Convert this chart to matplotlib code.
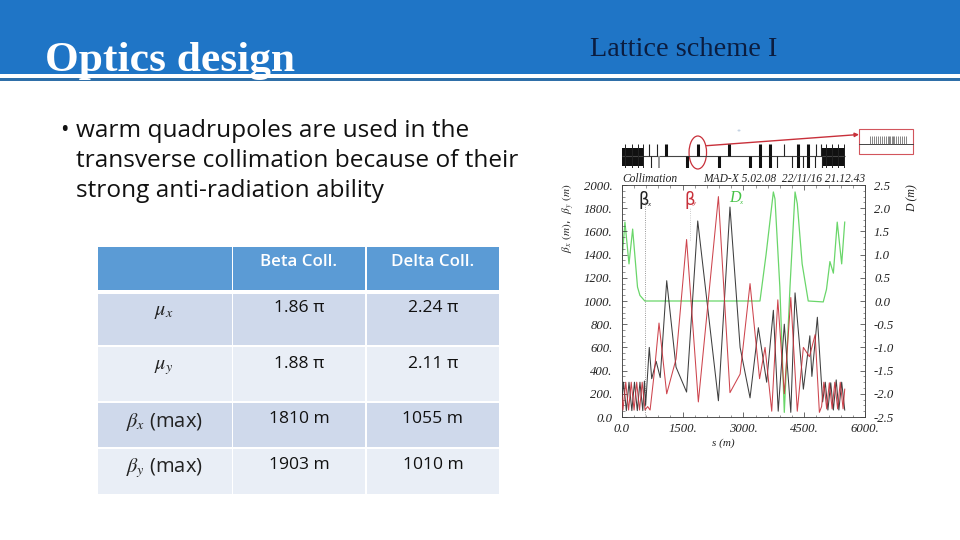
import matplotlib
matplotlib.use("Agg")
import matplotlib.pyplot as plt
from matplotlib.patches import Rectangle, Ellipse
from matplotlib.ticker import MultipleLocator

# ---- data ----
title_left = "Optics design"
title_right = "Lattice scheme I"
bullet_lines = ["warm quadrupoles are used in the",
                "transverse collimation because of their",
                "strong anti-radiation ability"]
table_cols = ["", "Beta Coll.", "Delta Coll."]
row_labels = [r"$\mu_x$", r"$\mu_y$", r"$\beta_x$ (max)", r"$\beta_y$ (max)"]
beta_coll = ["1.86 π", "1.88 π", "1810 m", "1903 m"]
delta_coll = ["2.24 π", "2.11 π", "1055 m", "1010 m"]

bx_s = [0, 45, 115, 180, 250, 315, 385, 450, 520, 560, 590, 680, 740, 850, 950, 1110,
        1340, 1600, 1875, 2385, 2670, 2920, 3165, 3370, 3575, 3740, 3860, 4010, 4170, 4275, 4480, 4640, 4690, 4825,
        4955, 5020, 5085, 5155, 5220, 5290, 5355, 5425, 5500]
bx = [100, 300, 55, 300, 55, 300, 55, 300, 55, 310, 100, 600, 330, 480, 340, 1175,
      430, 215, 1690, 140, 1810, 600, 165, 770, 300, 920, 50, 800, 40, 1070, 240, 700, 350, 860,
      130, 300, 60, 295, 60, 320, 60, 300, 60]
by_s = [0, 30, 100, 170, 235, 305, 370, 440, 505, 575, 640, 700, 800, 920, 1110,
        1340, 1600, 1890, 2385, 2670, 2920, 3165, 3400, 3535, 3700, 3850, 4010, 4170, 4330, 4480, 4630, 4770, 4875,
        4930, 4985, 5055, 5120, 5190, 5255, 5325, 5390, 5460, 5500]
by = [200, 60, 300, 60, 300, 60, 300, 60, 300, 60, 90, 60, 370, 810, 200,
      500, 1530, 130, 1900, 210, 370, 1150, 330, 600, 50, 1010, 200, 1030, 50, 600, 520, 710, 40,
      90, 300, 70, 295, 70, 300, 70, 300, 70, 240]
dx_s = [0, 80, 180, 270, 390, 450, 570, 3410, 3560, 3740, 3780, 3900, 4010, 4150, 4275, 4330, 4450, 4600, 4970, 5050, 5135, 5220, 5315, 5425, 5500]
dx = [0.8, 1.7, 0.8, 1.55, 0.3, 0.12, 0.0, 0.0, 1.0, 2.35, 2.2, 0.3, -2.4, 0.3, 2.35, 2.1, 0.8, 0.0, -0.02, 0.25, 0.85, 0.6, 1.7, 0.8, 1.7]

up_thin = [680, 860, 4011, 4790, 4915]
up_thick = [1085, 1890, 2650, 3410, 3660, 4348, 4594]
down_thin = [720, 3823, 4192, 4471, 4767, 4932]
down_grey = [930]
down_thick = [1600, 2390, 3165, 3410, 3660, 4348, 4594]
block_edges = [(0, 540), (4950, 5500)]
block_ticks = [80, 250, 400, 530, 5030, 5190, 5340, 5480]
inset_ticks = [870, 872, 874, 876, 878, 880, 882, 884, 886, 888, 889, 890, 892, 893, 894, 896, 898, 900, 902, 904, 906]

y_ticks = [0, 200, 400, 600, 800, 1000, 1200, 1400, 1600, 1800, 2000]
x_ticks = [0, 1500, 3000, 4500, 6000]
d_ticks = [-2.5, -2, -1.5, -1, -0.5, 0, 0.5, 1, 1.5, 2, 2.5]

# ---- colours ----
BLUE = "#1F75C6"
DARKBLUE = "#2F6FA8"
SERIF = "Liberation Serif"
SANS = "Open Sans"
plt.rcParams["mathtext.fontset"] = "stix"

fig = plt.figure(figsize=(9.6, 5.4), dpi=100, facecolor="white")
bg = fig.add_axes([0, 0, 1, 1])
bg.set_xlim(0, 960)
bg.set_ylim(540, 0)
bg.axis("off")

# header
bg.add_patch(Rectangle((0, 0), 960, 74, fc=BLUE, ec="none"))
bg.add_patch(Rectangle((0, 78), 960, 3, fc=DARKBLUE, ec="none"))
bg.text(45, 71, title_left, family=SERIF, weight="bold", color="white", fontsize=31.3, va="baseline")
bg.text(590, 56, title_right, family=SERIF, color="#0B1D40", fontsize=20.3, va="baseline")

# bullet text
bg.text(60, 137, "•", family=SANS, fontsize=16.5, color="#111111", va="baseline")
for line, yb in zip(bullet_lines, [137, 167, 197]):
    bg.text(76.5, yb, line, family=SANS, fontsize=17.6, color="#111111", va="baseline")

# table
col_edges = [(98, 232), (233, 365), (367, 499)]
row_edges = [(247, 290), (294, 345), (347, 401), (403, 447), (449, 494)]
row_fill = ["#5B9BD5", "#CFD9EB", "#E9EEF6", "#CFD9EB", "#E9EEF6"]
text_y = [262, 308, 364, 419, 465]
for (y0, y1), fill in zip(row_edges, row_fill):
    for (x0, x1) in col_edges:
        bg.add_patch(Rectangle((x0, y0), x1 - x0, y1 - y0, fc=fill, ec="none"))
for (x0, x1), label in zip(col_edges, table_cols):
    bg.text((x0 + x1) / 2, text_y[0], label, family=SANS, fontsize=12.2, color="white",
            ha="center", va="center", weight="semibold")
for i in range(4):
    yy = text_y[i + 1]
    bg.text(164, yy + 3, row_labels[i], family=SANS, fontsize=14.5, color="#222222", ha="center", va="center")
    bg.text(299, yy, beta_coll[i], family=SANS, fontsize=12.6, color="#111111", ha="center", va="center")
    bg.text(433, yy, delta_coll[i], family=SANS, fontsize=12.6, color="#111111", ha="center", va="center")

# main plot
L, R, T, B = 621.7, 865.0, 185.0, 417.0
ax = fig.add_axes([L / 960, 1 - B / 540, (R - L) / 960, (B - T) / 540])
ax.patch.set_alpha(0)
ax.set_xlim(0, 6000)
ax.set_ylim(0, 2000)
ax2 = ax.twinx()
ax2.set_ylim(-2.5, 2.5)
ax2.patch.set_alpha(0)

ax2.plot(dx_s, dx, color="#6AD66A", lw=0.9, zorder=1)
ax.plot(bx_s, bx, color="#2A2A2A", lw=0.75, alpha=0.9, zorder=3)
ax.plot(by_s, by, color="#C8303A", lw=0.75, alpha=0.9, zorder=4)
ax.set_zorder(ax2.get_zorder() + 1)

ax.vlines(570, 0, 1850, color="#777777", lw=0.6, ls=":")
ax.vlines(1690, 1530, 1800, color="#BBBBBB", lw=0.6, ls=":")

ax.set_xticks(x_ticks)
ax.set_yticks(y_ticks)
ax2.set_yticks(d_ticks)
ax.xaxis.set_minor_locator(MultipleLocator(300))
ax.yaxis.set_minor_locator(MultipleLocator(50))
ax2.yaxis.set_minor_locator(MultipleLocator(0.125))
fmt_txt = dict(family=SERIF, style="italic", fontsize=9.2, color="#222222")
ax.set_xticklabels(["0.0", "1500.", "3000.", "4500.", "6000."], **fmt_txt)
ax.set_yticklabels(["0.0"] + [f"{v}." for v in y_ticks[1:]], **fmt_txt)
ax2.set_yticklabels(["-2.5", "-2.0", "-1.5", "-1.0", "-0.5", "0.0", "0.5", "1.0", "1.5", "2.0", "2.5"], **fmt_txt)
ax.tick_params(axis="x", which="major", direction="in", length=3.5, width=0.5, color="#333333", pad=4.5, top=True)
ax.tick_params(axis="y", which="major", direction="in", length=3.5, width=0.5, color="#333333", pad=6.5)
ax.tick_params(axis="both", which="minor", direction="in", length=1.8, width=0.4, color="#444444", top=True)
ax2.tick_params(axis="y", which="major", direction="in", length=3.5, width=0.5, color="#333333", pad=6.5)
ax2.tick_params(axis="y", which="minor", direction="in", length=1.8, width=0.4, color="#444444")
for a in (ax, ax2):
    for s in a.spines.values():
        s.set_linewidth(0.5)
        s.set_color("#444444")

# text around the plot
it = dict(family=SERIF, style="italic", color="#222222")
bg.text(569, 218, r"$\beta_x$ $(m)$,  $\beta_y$ $(m)$", rotation=90, ha="center", va="center", fontsize=8.0, color="#222222")
bg.text(912, 198, "D (m)", rotation=90, ha="center", va="center", fontsize=8.5, **it)
bg.text(723, 443, "s (m)", ha="center", va="center", fontsize=8, **it)
bg.text(622.5, 179, "Collimation", ha="left", va="center", fontsize=8.3, **it)
bg.text(865, 179, "MAD-X 5.02.08  22/11/16 21.12.43", ha="right", va="center", fontsize=8.3, **it)
bg.text(638, 200, "β", family="DejaVu Sans", fontsize=12, color="#222222", ha="left", va="center")
bg.text(647, 204, "x", fontsize=5, color="#222222", ha="left", va="center", family=SERIF, style="italic")
bg.text(684, 200, "β", family="DejaVu Sans", fontsize=12, color="#C8303A", ha="left", va="center")
bg.text(693, 204, "y", fontsize=5, color="#C8303A", ha="left", va="center", family=SERIF, style="italic")
bg.text(729, 198, "D", fontsize=11.5, color="#45C245", ha="left", va="center", family=SERIF, style="italic")
bg.text(739, 202, "x", fontsize=5, color="#45C245", ha="left", va="center", family=SERIF, style="italic")

# lattice strip
st = fig.add_axes([L / 960, 1 - 168 / 540, (R - L) / 960, 24 / 540])
st.set_xlim(0, 6000)
st.set_ylim(-1, 1)
st.axis("off")
st.hlines(0, 0, 5500, color="#444444", lw=0.8)
st.vlines(up_thin, 0, 1, color="#222222", lw=0.8)
st.vlines(up_thick, 0, 1, color="#111111", lw=2.2)
st.vlines(down_thin, -1, 0, color="#222222", lw=0.8)
st.vlines(down_grey, -1, 0, color="#999999", lw=1.4)
st.vlines(down_thick, -1, 0, color="#111111", lw=2.2)
for a0, a1 in block_edges:
    st.add_patch(Rectangle((a0, -0.85), a1 - a0, 1.5, fc="#111111", ec="none"))
st.vlines(block_ticks, -1, 1, color="#222222", lw=0.7)

# callout
bg.add_patch(Ellipse((697.8, 152.5), 17.5, 33, fc="none", ec="#C8303A", lw=0.9, zorder=6))
bg.annotate("", xy=(859, 134.5), xytext=(706.5, 145.7),
            arrowprops=dict(arrowstyle="-|>", color="#C8303A", lw=1.0, mutation_scale=6, shrinkA=0, shrinkB=0))
bg.add_patch(Rectangle((859, 129), 54, 25, fc="white", ec="#D2555C", lw=0.8))
bg.plot([859, 913], [144, 144], color="#444444", lw=0.7)
bg.vlines(inset_ticks, 136, 144, color="#555555", lw=0.5)
bg.add_patch(Ellipse((739, 130.5), 3, 2, fc="#C5D3E3", ec="none"))

fig.savefig("out.png", dpi=100)
